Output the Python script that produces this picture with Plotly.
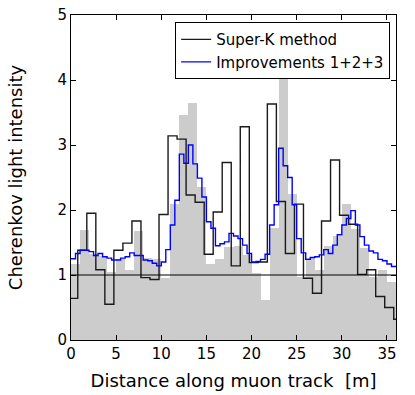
import numpy as np
import plotly.graph_objects as go

# grey reference profile, 1 m bins from 0 to 36 m
grey_edges = np.arange(0, 37, 1.0)
grey_vals = [1.17, 1.69, 1.33, 1.30, 1.04, 1.25, 1.07, 1.68, 1.26, 1.24,
             0.95, 2.09, 3.46, 3.64, 2.35, 1.17, 1.25, 1.43, 1.44, 1.31,
             1.03, 0.61, 1.72, 4.30, 2.24, 0.97, 1.26, 1.08, 1.45, 1.60,
             2.09, 1.71, 1.42, 0.97, 1.08, 0.89]

# Super-K method, 1 m bins shifted by 0.75 m
superk_edges = [0] + [0.75 + k for k in range(36)] + [36]
superk_vals = [0.64, 1.38, 1.95, 1.08, 0.55, 1.38, 1.49, 1.83, 0.96, 0.93,
               1.93, 3.14, 3.09, 2.23, 2.12, 1.32, 1.97, 2.73, 1.14, 3.28,
               1.19, 1.20, 3.63, 2.13, 1.33, 2.09, 0.95, 0.72, 1.83, 2.77,
               1.92, 1.78, 1.01, 1.08, 0.67, 0.50, 0.32]

# Improvements 1+2+3, 0.5 m bins
impr_edges = np.arange(0, 36.5, 0.5)
impr_vals = [1.25, 1.33, 1.38, 1.38, 1.36, 1.30, 1.33, 1.28, 1.26, 1.23,
             1.23, 1.26, 1.28, 1.34, 1.30, 1.30, 1.23, 1.22, 1.18, 1.14,
             1.20, 1.39, 1.77, 2.15, 2.86, 2.72, 3.00, 2.71, 2.49, 2.20,
             1.82, 1.72, 1.45, 1.48, 1.51, 1.64, 1.60, 1.56, 1.46, 1.33,
             1.20, 1.21, 1.24, 1.32, 1.77, 2.08, 2.95, 2.68, 2.50, 2.08,
             1.56, 1.34, 1.24, 1.27, 1.28, 1.31, 1.39, 1.33, 1.46, 1.62,
             1.77, 1.87, 1.99, 1.77, 1.59, 1.46, 1.37, 1.34, 1.24, 1.22,
             1.17, 1.13]

font = 'DejaVu Sans'

fig = go.Figure()

centers = (grey_edges[:-1] + grey_edges[1:]) / 2
widths = np.diff(grey_edges)
fig.add_trace(go.Bar(x=centers, y=grey_vals, width=widths, marker_color='#cccccc',
                     marker_line_width=0, showlegend=False, hoverinfo='skip'))

fig.add_trace(go.Scatter(x=superk_edges, y=superk_vals + [superk_vals[-1]], mode='lines',
                         line=dict(shape='hv', color='#1a1a1a', width=1.4), name='Super-K method'))
fig.add_trace(go.Scatter(x=list(impr_edges), y=impr_vals + [impr_vals[-1]], mode='lines',
                         line=dict(shape='hv', color='#0000ff', width=1.4), name='Improvements 1+2+3'))

fig.add_hline(y=1, line=dict(color='black', width=1))

axis_common = dict(showline=True, linecolor='black', linewidth=1, mirror='ticks', ticks='inside',
                   ticklen=5, tickcolor='black', showgrid=False, zeroline=False, automargin=False,
                   tickfont=dict(family=font, size=15, color='black'))

fig.update_xaxes(range=[0, 36], tickvals=[0, 5, 10, 15, 20, 25, 30, 35],
                 title=dict(text='Distance along muon track  [m]', standoff=12,
                            font=dict(family=font, size=18, color='black')), **axis_common)
fig.update_yaxes(range=[0, 5], tickvals=[0, 1, 2, 3, 4, 5],
                 title=dict(text='Cherenkov light intensity', standoff=30,
                            font=dict(family=font, size=18, color='black')), **axis_common)

fig.update_layout(width=415, height=395, margin=dict(l=71, r=19, t=15, b=55),
                  plot_bgcolor='white', paper_bgcolor='white', bargap=0,
                  font=dict(family=font, color='black'),
                  legend=dict(x=0.982, y=0.978, xanchor='right', yanchor='top',
                              bgcolor='white', bordercolor='black', borderwidth=1,
                              font=dict(family=font, size=15, color='black')))

# page has a default 8px body margin; remove it so the figure fills the window
fig.write_html('out.html', config={'displayModeBar': False},
               post_script="document.body.style.margin = '0px';")
